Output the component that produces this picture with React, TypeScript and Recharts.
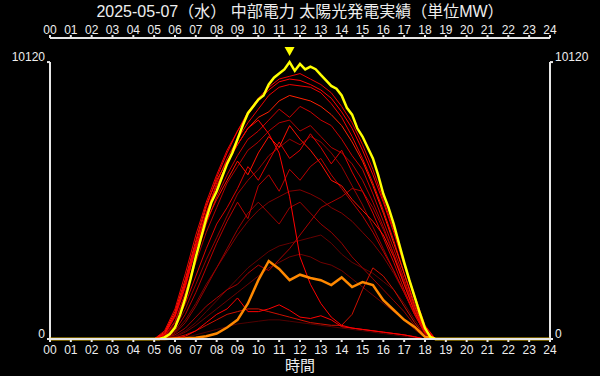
import React from 'react';
import { LineChart, Line, XAxis, YAxis, ReferenceLine, ReferenceDot } from 'recharts';

const TITLE = '2025-05-07（水） 中部電力 太陽光発電実績（単位MW）';
const X_LABEL = '時間';
const FONT = '"Liberation Sans", "Noto Sans CJK JP", sans-serif';

const hourTicks = [0, 1, 2, 3, 4, 5, 6, 7, 8, 9, 10, 11, 12, 13, 14, 15, 16, 17, 18, 19, 20, 21, 22, 23, 24];
const yTicks = [0, 10120];
const Y_TOP = 11000;

// today (yellow), 15-minute readings from 05:00
const todayStart = 5;
const todayStep = 0.25;
const todayMW = [
  0, 0, 60, 180, 420, 900, 1500, 2200, 3000, 3700, 4400, 5000,
  5400, 5900, 6400, 6800, 7300, 7800, 8250, 8500, 8750, 8900, 9300, 9550,
  9700, 9850, 10120, 9800, 10050, 9850, 9950, 9860, 9650, 9450, 9250, 9150,
  8900, 8450, 8200, 7700, 7400, 7000, 6600, 6000, 5300, 4800, 4200, 3500,
  2800, 2150, 1550, 950, 400, 80, 0,
];

// past days, 30-minute readings from 05:00 to 19:00
const pastStart = 5;
const pastStep = 0.5;
const orangeMW = [0, 0, 20, 30, 50, 100, 200, 420, 700, 1300, 2150, 2850, 2560, 2150, 2350, 2230, 2150, 1970, 2250, 1900, 2080, 1970, 1420, 1060, 700, 440, 80, 0, 0];

const day01 = [0, 20, 80, 250, 500, 800, 1100, 1400, 1700, 2000, 2300, 2600, 2800, 3000, 3100, 3000, 2800, 2700, 2500, 2200, 1900, 1600, 1300, 1000, 700, 350, 50, 0, 0];
const day02 = [0, 0, 20, 60, 150, 250, 350, 450, 550, 600, 650, 700, 700, 650, 600, 550, 500, 450, 400, 350, 300, 250, 200, 150, 100, 50, 0, 0, 0];
const day03 = [0, 20, 100, 300, 600, 1000, 1400, 1800, 2200, 2600, 2900, 3200, 3400, 3500, 3600, 3700, 3800, 3500, 3100, 2800, 2600, 2400, 2100, 1800, 1300, 700, 150, 0, 0];
const day04 = [0, 50, 250, 700, 1300, 2000, 2600, 3200, 3800, 4300, 4700, 5000, 5200, 5400, 5450, 5300, 5100, 4800, 4600, 4300, 3900, 3500, 3000, 2400, 1700, 900, 200, 0, 0];
const day05 = [0, 40, 200, 600, 1200, 1900, 2600, 3300, 4000, 4600, 5000, 4600, 4200, 4800, 5000, 4600, 4200, 3900, 3500, 3000, 2600, 2200, 1800, 1400, 1000, 500, 100, 0, 0];
const day06 = [0, 80, 400, 1100, 2000, 2900, 3700, 4500, 5300, 5800, 6200, 6700, 7000, 7300, 7100, 7400, 7200, 6800, 6300, 5600, 4900, 4100, 3300, 2500, 1700, 900, 200, 0, 0];
const day07 = [0, 30, 150, 400, 800, 1200, 1500, 1800, 2000, 2400, 2700, 2500, 2900, 3300, 3800, 4300, 4800, 5000, 5200, 5500, 5400, 4800, 4000, 3100, 2100, 1100, 250, 0, 0];
const day08 = [0, 100, 600, 1600, 2800, 3900, 4800, 5700, 6300, 6900, 7200, 7600, 7900, 8000, 7600, 7800, 7400, 7000, 6800, 6400, 5800, 5000, 4100, 3100, 2000, 1000, 200, 0, 0];
const day09 = [0, 60, 300, 900, 1700, 2600, 3500, 4300, 5000, 4400, 5600, 6000, 5400, 6200, 5800, 6300, 6600, 6000, 5500, 5000, 4500, 3900, 3200, 2500, 1700, 900, 200, 0, 0];
const day10 = [0, 0, 50, 150, 300, 500, 700, 900, 1000, 1100, 1100, 1000, 900, 800, 700, 600, 550, 500, 500, 900, 1800, 2600, 2300, 1800, 1200, 600, 100, 0, 0];
const day11 = [0, 120, 650, 1700, 3000, 4200, 5200, 6000, 6700, 7300, 7600, 8000, 8400, 8100, 8500, 8300, 8000, 7800, 7300, 6700, 6200, 5300, 4300, 3300, 2200, 1100, 250, 0, 0];
const day12 = [0, 100, 500, 1300, 2300, 3300, 4200, 4800, 5500, 6300, 5800, 6500, 7200, 6600, 6900, 7500, 7000, 6400, 6900, 6100, 5400, 4600, 3700, 2800, 1800, 900, 200, 0, 0];
const day13 = [0, 200, 900, 2000, 3300, 4300, 5100, 5800, 6500, 6000, 6800, 7400, 7000, 7800, 7300, 6900, 6400, 5800, 5600, 5100, 4700, 4300, 3800, 3000, 2000, 1000, 250, 0, 0];
const day14 = [0, 150, 800, 1900, 3300, 4600, 5700, 6600, 7300, 7900, 8400, 8900, 9200, 9300, 9250, 9200, 9000, 8600, 8100, 7400, 6600, 5700, 4700, 3600, 2400, 1300, 350, 0, 0];
const day15 = [0, 250, 1000, 2200, 3600, 4900, 5800, 6500, 7100, 7700, 8100, 8300, 8700, 8900, 8800, 8700, 8500, 8200, 7800, 7200, 6500, 5600, 4600, 3500, 2400, 1200, 300, 0, 0];
const day16 = [0, 0, 30, 100, 300, 600, 900, 1100, 1500, 1000, 1000, 1100, 1250, 1050, 800, 750, 850, 700, 450, 400, 350, 300, 250, 200, 150, 80, 0, 0, 0];
const day17 = [0, 180, 850, 2000, 3400, 4600, 5600, 6400, 7100, 7700, 8000, 7500, 6800, 5200, 3000, 2000, 1300, 800, 500, 400, 350, 300, 250, 200, 150, 80, 0, 0, 0];
const day18 = [0, 300, 1100, 2400, 3800, 5000, 6000, 6900, 7600, 8300, 8800, 9200, 9500, 9600, 9700, 9500, 9300, 9000, 8500, 7900, 7100, 6200, 5100, 4000, 2800, 1600, 500, 0, 0];
const day19 = [0, 200, 900, 2100, 3500, 4800, 5900, 6800, 7600, 8200, 8700, 9100, 9400, 9500, 9450, 9300, 9100, 8800, 8300, 7700, 6900, 6000, 5000, 3900, 2700, 1500, 450, 0, 0];

const pastDays = [day01, day02, day03, day04, day05, day06, day07, day08, day09, day10, day11, day12, day13, day14, day15, day16, day17, day18, day19];
const pastColors = ['#700000', '#500000', '#660000', '#800000', '#990000', '#990000', '#aa0000', '#b30000', '#bb0000', '#cc1000', '#cc0000', '#dd0000', '#ff1000', '#ee0000', '#ff2000', '#ff0000', '#ff0000', '#ee0000', '#ff0000'];

const toSeries = (start: number, step: number, values: number[]) => [
  { h: 0, v: 0 },
  ...values.map((v, i) => ({ h: start + i * step, v })),
  { h: 24, v: 0 },
];

const pad2 = (n: number) => String(n).padStart(2, '0');

const LeftTick = (props: any) => {
  const { x, y, payload } = props;
  return (
    <text x={x} y={y - 5} dy="0.35em" textAnchor="end" fill="#eee" fontSize={12} fontFamily={FONT}>
      {payload.value}
    </text>
  );
};
const RightTick = (props: any) => {
  const { x, y, payload } = props;
  return (
    <text x={x} y={y - 5} dy="0.35em" textAnchor="start" fill="#eee" fontSize={12} fontFamily={FONT}>
      {payload.value}
    </text>
  );
};

const PeakMarker = (props: any) => {
  const { cx, cy } = props;
  return <polygon points={`${cx - 5},${cy - 15} ${cx + 5},${cy - 15} ${cx},${cy - 6}`} fill="#ffff00" />;
};

export default function App() {
  const todaySeries = toSeries(todayStart, todayStep, todayMW);
  const orangeSeries = toSeries(pastStart, pastStep, orangeMW);
  const peak = todaySeries.reduce((a, b) => (b.v > a.v ? b : a));
  const axisStroke = '#e6e6e6';
  const tickStyle = { fill: '#eee', fontSize: 12, fontFamily: FONT };
  return (
    <div style={{ position: 'fixed', left: 0, top: 0, width: 600, height: 376, background: '#000', fontFamily: FONT }}>
      <div style={{ position: 'absolute', left: 0, top: 3, width: 600, height: 18, textAlign: 'center', color: '#eee', fontSize: 16, lineHeight: '18px', fontFamily: FONT }}>
        {TITLE}
      </div>
      <LineChart width={600} height={376} margin={{ top: 20, right: 0, bottom: 0, left: 0 }}>
        <XAxis
          xAxisId="top"
          orientation="top"
          type="number"
          dataKey="h"
          domain={[0, 24]}
          ticks={hourTicks}
          tickFormatter={pad2}
          height={18}
          tickSize={3}
          tickMargin={1}
          interval={0}
          stroke={axisStroke}
          strokeWidth={2}
          tick={tickStyle}
        />
        <XAxis
          xAxisId="bottom"
          orientation="bottom"
          type="number"
          dataKey="h"
          domain={[0, 24]}
          ticks={hourTicks}
          tickFormatter={pad2}
          height={37}
          tickSize={3}
          tickMargin={3}
          interval={0}
          stroke={axisStroke}
          strokeWidth={2}
          tick={tickStyle}
          label={{ value: X_LABEL, position: 'insideBottom', offset: 5, fill: '#eee', fontSize: 15, fontFamily: FONT }}
        />
        <YAxis
          yAxisId="left"
          orientation="left"
          type="number"
          domain={[0, Y_TOP]}
          ticks={yTicks}
          width={50}
          axisLine={false}
          tickSize={3}
          tickMargin={2}
          interval={0}
          tickLine={{ stroke: axisStroke, strokeWidth: 2 }}
          tick={<LeftTick />}
        />
        <YAxis
          yAxisId="right"
          orientation="right"
          type="number"
          domain={[0, Y_TOP]}
          ticks={yTicks}
          width={50}
          axisLine={false}
          tickSize={3}
          tickMargin={2}
          interval={0}
          tickLine={{ stroke: axisStroke, strokeWidth: 2 }}
          tick={<RightTick />}
        />
        <ReferenceLine xAxisId="bottom" yAxisId="left" segment={[{ x: 0, y: 0 }, { x: 0, y: yTicks[1] }]} stroke={axisStroke} strokeWidth={2} />
        <ReferenceLine xAxisId="bottom" yAxisId="left" segment={[{ x: 24, y: 0 }, { x: 24, y: yTicks[1] }]} stroke={axisStroke} strokeWidth={2} />
        {pastDays.map((d, i) => (
          <Line
            key={i}
            xAxisId="bottom"
            yAxisId="left"
            data={toSeries(pastStart, pastStep, d)}
            dataKey="v"
            type="linear"
            stroke={pastColors[i]}
            strokeWidth={1}
            dot={false}
            isAnimationActive={false}
          />
        ))}
        <Line xAxisId="bottom" yAxisId="left" data={orangeSeries} dataKey="v" type="linear" stroke="#ff8800" strokeWidth={2.5} dot={false} isAnimationActive={false} />
        <Line xAxisId="top" yAxisId="right" data={todaySeries} dataKey="v" type="linear" stroke="#ffff00" strokeWidth={2.5} dot={false} isAnimationActive={false} />
        <ReferenceDot xAxisId="top" yAxisId="right" x={peak.h} y={peak.v} r={0} shape={<PeakMarker />} />
      </LineChart>
    </div>
  );
}
